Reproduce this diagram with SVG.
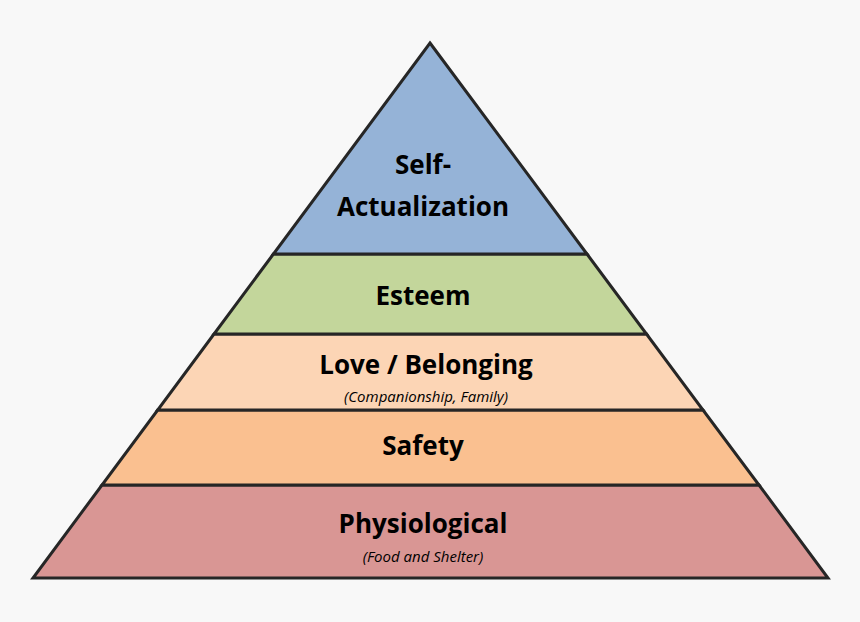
<svg xmlns="http://www.w3.org/2000/svg" width="860" height="622" viewBox="0 0 860 622">
<style>
.b{stroke:#262626;stroke-width:3;stroke-linejoin:miter}
.t{font-family:"Open Sans","Liberation Sans",sans-serif;font-weight:bold;font-size:26px;fill:#000;text-anchor:middle}
.s{font-family:"Open Sans","Liberation Sans",sans-serif;font-style:italic;font-size:15px;fill:#000;text-anchor:middle}
</style>
<rect width="860" height="622" fill="#f8f8f8"/>
<g id="physiological"><polygon class="b" fill="#D99694" points="102,485 759,485 828,578 33,578"/>
<text class="t" x="423" y="533">Physiological</text><text class="s" x="423" y="562">(Food and Shelter)</text></g>
<g id="safety"><polygon class="b" fill="#FAC090" points="157.7,410 703,410 759,485 102,485"/>
<text class="t" x="423" y="455">Safety</text></g>
<g id="love"><polygon class="b" fill="#FCD5B5" points="214,334 646.5,334 703,410 157.7,410"/>
<text class="t" x="426" y="374">Love / Belonging</text><text class="s" x="426" y="402">(Companionship, Family)</text></g>
<g id="esteem"><polygon class="b" fill="#C3D69B" points="273.4,254 587,254 646.5,334 214,334"/>
<text class="t" x="423" y="305">Esteem</text></g>
<g id="self"><polygon class="b" fill="#95B3D7" points="430,43 587,254 273.4,254"/>
<text class="t" x="423" y="174">Self-</text><text class="t" x="423" y="216">Actualization</text></g>
</svg>
